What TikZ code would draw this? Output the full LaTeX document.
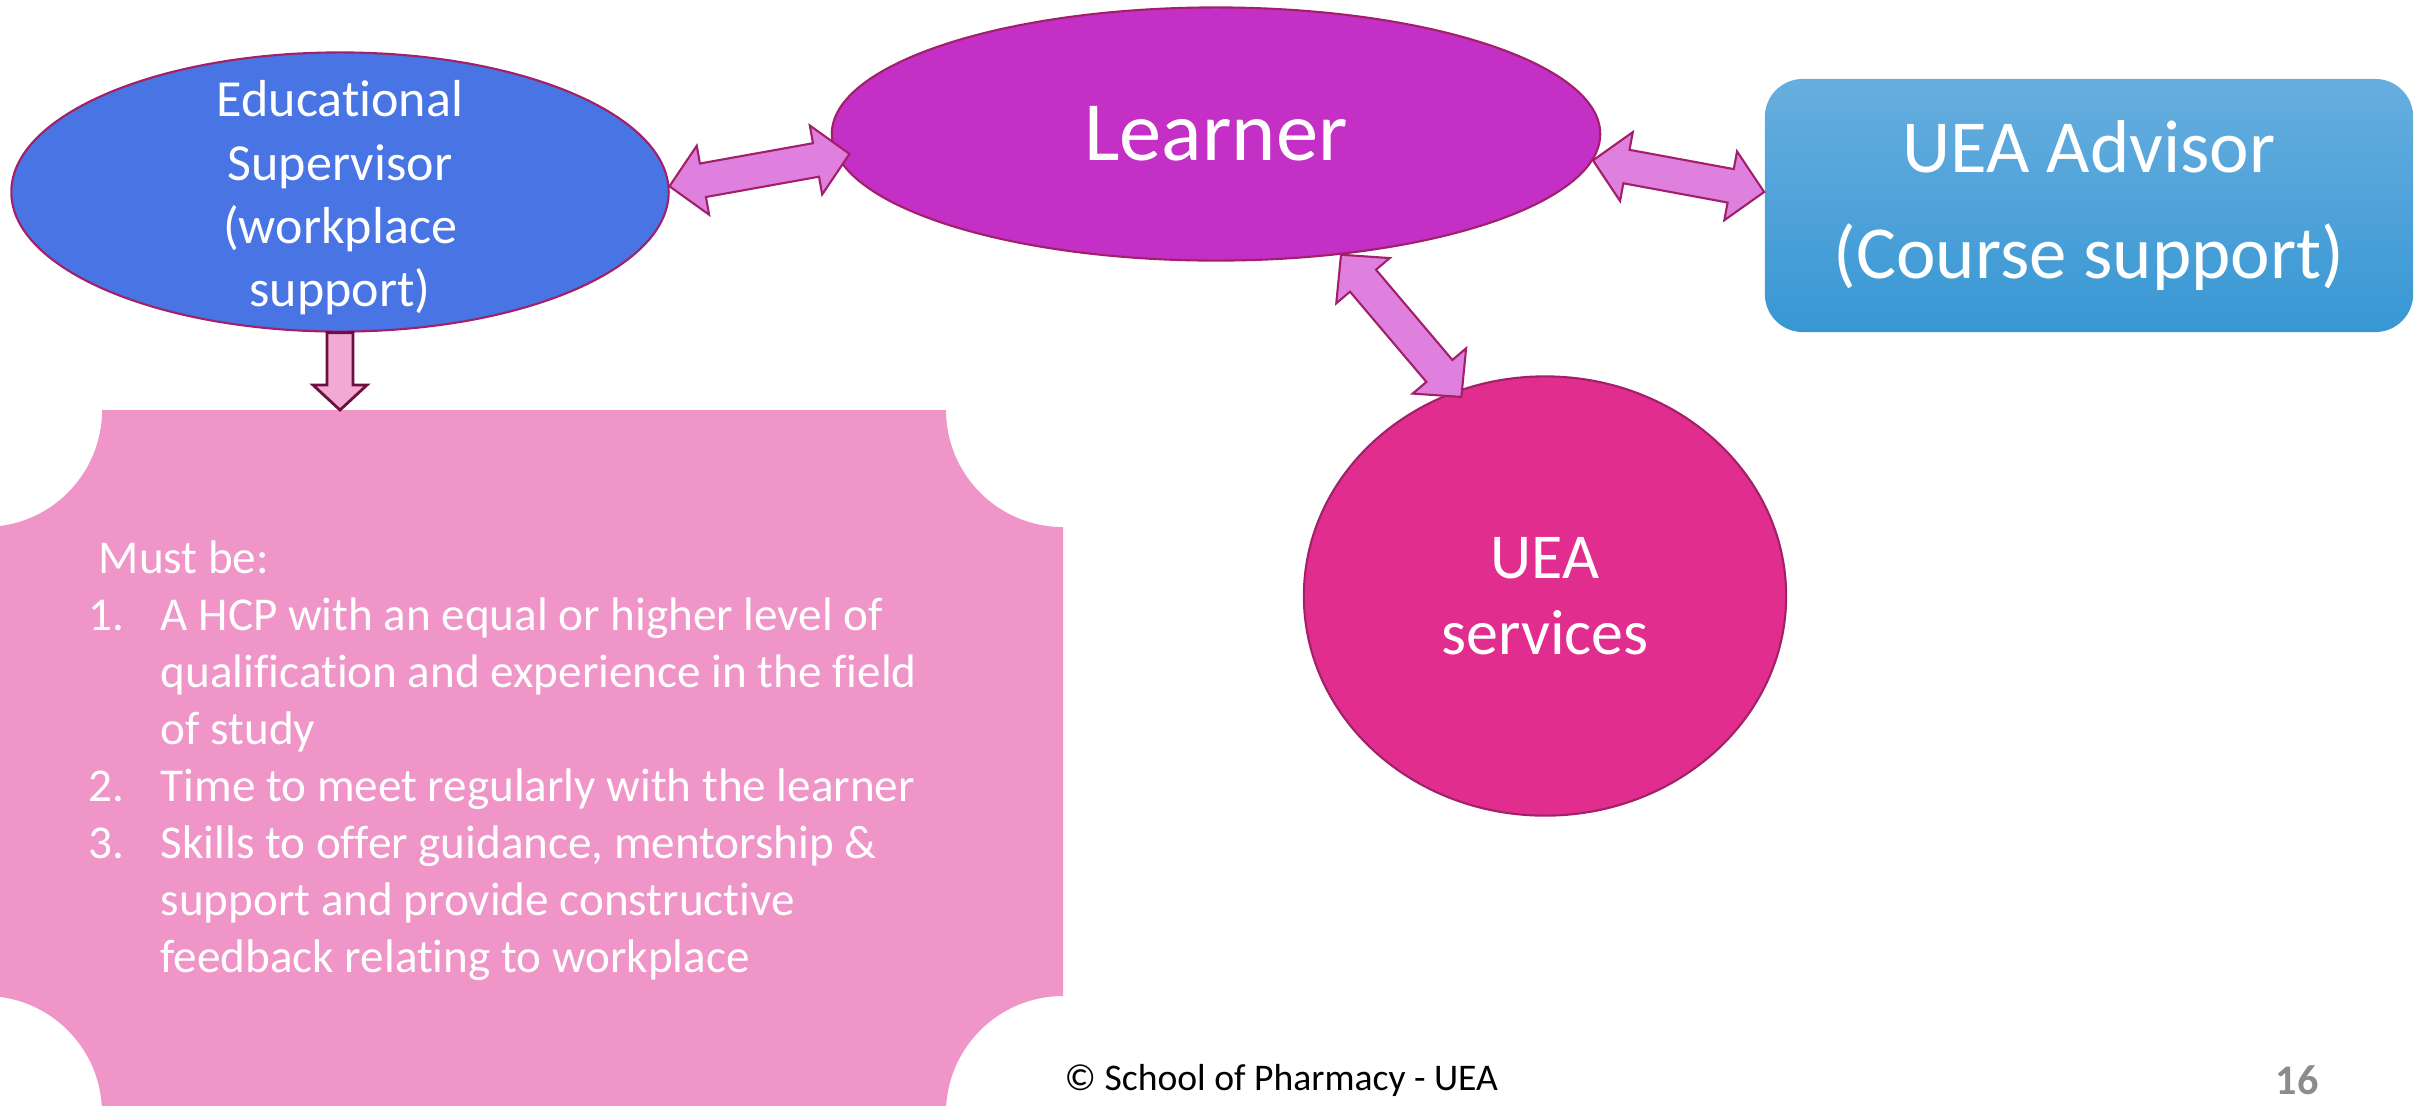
\documentclass[tikz,border=0pt]{standalone}
\usepackage{fontspec}
\setmainfont{Carlito}[Ligatures=NoCommon]
\usepackage{tikz}
\usetikzlibrary{calc}
\usetikzlibrary{shapes.geometric}

\definecolor{Rand}{HTML}{A2206A}
\definecolor{Betreuer}{HTML}{4974E4}
\definecolor{Lerner}{HTML}{C42FC6}
\definecolor{Dienste}{HTML}{E12E8E}
\definecolor{BeraterOben}{HTML}{67AEDF}
\definecolor{BeraterUnten}{HTML}{3897D3}
\definecolor{Kasten}{HTML}{EF95C7}
\definecolor{Pfeilfarbe}{HTML}{DF80DF}
\definecolor{Pfeilrand}{HTML}{6E103E}
\definecolor{PfeilHell}{HTML}{F2AAD4}
\definecolor{Seitenzahl}{HTML}{8C8C8C}

\tikzset{
  Oval/.style={ellipse, draw=Rand, line width=0.6pt, inner sep=0pt}, % Ellipsen
  Schrift/.style={text=white, align=center, inner sep=0pt},
  Blockpfeil/.style={fill=Pfeilfarbe, draw=Rand, line width=0.6pt}, % Doppelpfeile
  Abwaerts/.style={fill=PfeilHell, draw=Pfeilrand, line width=0.8pt}
}

% Nummer der Aufzaehlung
\newcommand{\Nr}[1]{\makebox[0.72cm][l]{#1}}

% Blockpfeil mit zwei Spitzen zwischen #1 und #2
\newcommand{\Doppelpfeil}[2]{%
  \coordinate (Pa) at ($(#1)!0.34cm!(#2)$);
  \coordinate (Pb) at ($(#2)!0.34cm!(#1)$);
  \filldraw[Blockpfeil] (#1)
    -- ($(Pa)!0.35cm!90:(#2)$) -- ($(Pa)!0.17cm!90:(#2)$)
    -- ($(Pb)!0.17cm!-90:(#1)$) -- ($(Pb)!0.35cm!-90:(#1)$)
    -- (#2)
    -- ($(Pb)!0.35cm!90:(#1)$) -- ($(Pb)!0.17cm!90:(#1)$)
    -- ($(Pa)!0.17cm!-90:(#2)$) -- ($(Pa)!0.35cm!-90:(#2)$)
    -- cycle;}

% Blockpfeil mit einer Spitze bei #2
\newcommand{\Einfachpfeil}[2]{%
  \coordinate (Pa) at ($(#2)!0.25cm!(#1)$);
  \filldraw[Abwaerts] ($(#1)!0.13cm!90:(#2)$)
    -- ($(Pa)!0.13cm!-90:(#1)$) -- ($(Pa)!0.27cm!-90:(#1)$)
    -- (#2)
    -- ($(Pa)!0.27cm!90:(#1)$) -- ($(Pa)!0.13cm!90:(#1)$)
    -- ($(#1)!0.13cm!-90:(#2)$) -- cycle;}

\begin{document}
\begin{tikzpicture}[x=0.01cm, y=-0.01cm]
\useasboundingbox (0,0) rectangle (2425,1105);

%Kasten
\fill[Kasten] (102,410) -- (946,410)
  arc[start angle=180, end angle=270, radius=1.17cm] -- (1063,996)
  arc[start angle=90, end angle=180, radius=1.17cm] -- (102,1113)
  arc[start angle=0, end angle=90, radius=1.17cm] -- (-15,527)
  arc[start angle=-90, end angle=0, radius=1.17cm] -- cycle;
\coordinate (kasten) at (524,410);

\node[anchor=north west, align=left, text=white, inner sep=0pt,
  font=\fontsize{13.4}{16.2}\selectfont] (anforderungen) at (88,540)
  {\hspace*{0.1cm}Must be:\\
   \Nr{1.}A HCP with an equal or higher level of\\
   \Nr{}qualification and experience in the field\\
   \Nr{}of study\\
   \Nr{2.}Time to meet regularly with the learner\\
   \Nr{3.}Skills to offer guidance, mentorship \&\\
   \Nr{}support and provide constructive\\
   \Nr{}feedback relating to workplace};

%Ellipsen
\node[Oval, fill=Betreuer, minimum width=6.57cm, minimum height=2.79cm] (sup) at (340,192) {};
\node[Schrift, font=\fontsize{14.8}{18}\selectfont] (sup-text) at (340,198)
  {Educational\\Supervisor\\(workplace\\support)};
\node[Oval, Schrift, fill=Lerner, minimum width=7.68cm, minimum height=2.53cm,
  font=\fontsize{24}{29}\selectfont] (learner) at (1216,134) {\raisebox{-0.04cm}{Learner}};
\node[Oval, Schrift, fill=Dienste, minimum width=4.82cm, minimum height=4.39cm,
  font=\fontsize{18.2}{21.6}\selectfont] (services) at (1545,596) {UEA\\services};
\node[Schrift, rounded corners=0.38cm, top color=BeraterOben, bottom color=BeraterUnten,
  minimum width=6.48cm, minimum height=2.53cm,
  font=\fontsize{21.3}{30.4}\selectfont] (advisor) at (2089,205.5) {UEA Advisor\\(Course support)};

%Pfeile
\coordinate (l-links) at ([xshift=0.14cm]learner.183);
\coordinate (a-links) at ([yshift=0.135cm]advisor.west);
\coordinate (s-oben) at ([yshift=-0.08cm]services.112);
\Doppelpfeil{sup.1}{l-links}
\Doppelpfeil{learner.-4}{a-links}
\Doppelpfeil{learner.-44}{s-oben}
\Einfachpfeil{sup.south}{sup.south |- kasten}

%Fusszeile
\node[anchor=west, inner sep=0pt, font=\fontsize{10.7}{13}\selectfont] (fusszeile) at (1064,1080)
  {\textcopyright{} School of Pharmacy - UEA};
\node[inner sep=0pt, text=Seitenzahl, font=\fontsize{12}{14}\selectfont\bfseries] (seite) at (2297,1080) {16};
\end{tikzpicture}
\end{document}
